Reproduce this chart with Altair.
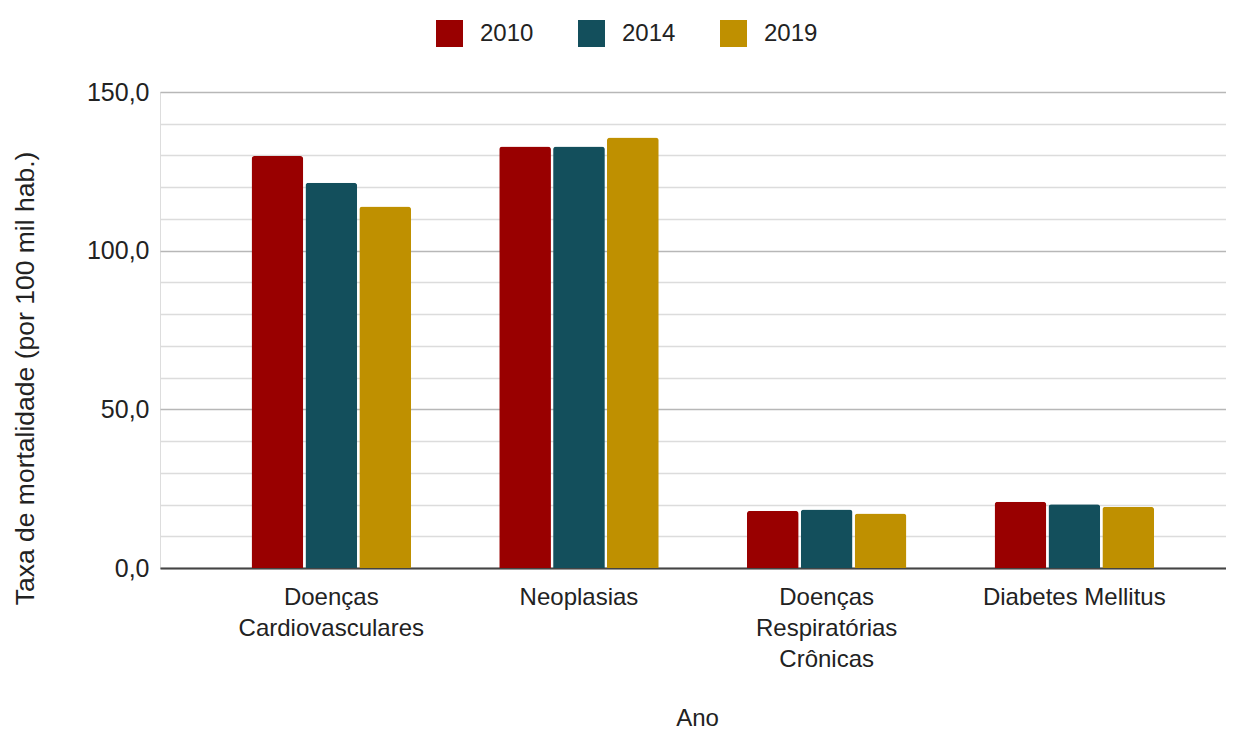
import altair as alt
import pandas as pd

categories = ["Doenças Cardiovasculares", "Neoplasias", "Doenças Respiratórias Crônicas", "Diabetes Mellitus"]
years = ["2010", "2014", "2019"]
values_2010 = [129.8, 132.8, 18.0, 20.9]
values_2014 = [121.4, 132.8, 18.4, 20.1]
values_2019 = [113.9, 135.7, 17.2, 19.3]
colors = ["#990000", "#134f5c", "#bf9000"]
y_ticks = list(range(0, 151, 10))

rows = []
for yr, vals in zip(years, [values_2010, values_2014, values_2019]):
    for c, v in zip(categories, vals):
        rows.append({"categoria": c, "ano": yr, "taxa": v})
df = pd.DataFrame(rows)

FONT = "Liberation Sans"

chart = alt.Chart(df).mark_bar(
    cornerRadiusTopLeft=3, cornerRadiusTopRight=3
).encode(
    x=alt.X(
        "categoria:N",
        sort=categories,
        scale=alt.Scale(paddingInner=0.356, paddingOuter=0.33, align=0.56),
        axis=alt.Axis(
            title="Ano",
            labelAngle=0,
            labelFontSize=24,
            labelFont=FONT,
            labelColor="#222222",
            labelLineHeight=31,
            labelPadding=17,
            labelLimit=400,
            labelExpr="datum.label == 'Diabetes Mellitus' ? datum.label : split(datum.label, ' ')",
            ticks=False,
            domainColor="#444444",
            domainWidth=2,
            titleFontSize=24,
            titleFont=FONT,
            titleFontWeight="normal",
            titleColor="#222222",
            titleX=537,
            titleY=150,
            titleAlign="center",
            titleBaseline="middle",
        ),
    ),
    xOffset=alt.XOffset("ano:N", sort=years, scale=alt.Scale(paddingInner=0.04, paddingOuter=0)),
    y=alt.Y(
        "taxa:Q",
        scale=alt.Scale(domain=[0, 150], nice=False),
        axis=alt.Axis(
            title="Taxa de mortalidade (por 100 mil hab.)",
            values=y_ticks,
            labelExpr="datum.value % 50 === 0 ? replace(format(datum.value, '.1f'), '.', ',') : ''",
            labelFontSize=25,
            labelFont=FONT,
            labelColor="#222222",
            labelPadding=11,
            ticks=False,
            domain=False,
            grid=True,
            gridColor={"expr": "datum.value % 50 === 0 ? '#b7b7b7' : '#dcdcdc'"},
            gridWidth=1.6,
            titleFontSize=26.5,
            titleFont=FONT,
            titleFontWeight="normal",
            titleColor="#222222",
            titleX=-135,
            titleY=286,
            titleAngle=-90,
            titleAlign="center",
            titleBaseline="middle",
        ),
    ),
    color=alt.Color(
        "ano:N",
        sort=years,
        scale=alt.Scale(domain=years, range=colors),
        legend=alt.Legend(
            title=None,
            orient="none",
            legendX=276,
            legendY=-72,
            direction="horizontal",
            symbolType="square",
            symbolSize=729,
            symbolStrokeWidth=0,
            symbolOpacity=1,
            labelFontSize=24,
            labelFont=FONT,
            labelColor="#222222",
            labelOffset=17,
            columnPadding=44,
            padding=0,
        ),
    ),
).properties(
    width=1066,
    height=476,
    autosize=alt.AutoSizeParams(type="none"),
    padding={"left": 152, "top": 84, "right": 0, "bottom": 167},
).configure_view(stroke=None).configure(background="white")

chart.save("out.html", embed_options={"renderer": "svg", "actions": False})
